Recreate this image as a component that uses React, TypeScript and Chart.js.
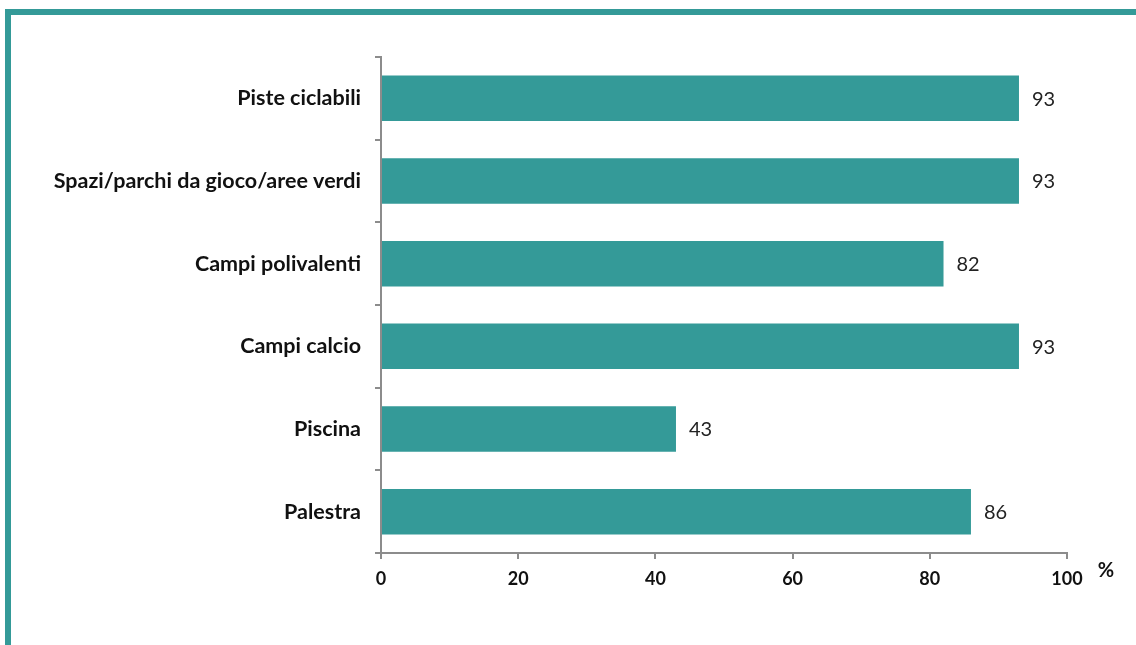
import React, { useEffect, useRef } from "react";
import { Chart, registerables } from "chart.js";

Chart.register(...registerables);

const categories = [
  "Piste ciclabili",
  "Spazi/parchi da gioco/aree verdi",
  "Campi polivalenti",
  "Campi calcio",
  "Piscina",
  "Palestra",
];
const values = [93, 93, 82, 93, 43, 86];
const xTicks = [0, 20, 40, 60, 80, 100];
const unitLabel = "%";

const TEAL = "#349a98";
const AXIS = "#8c8c8c";
const FONT = "Lato, 'Open Sans', sans-serif";

export default function App() {
  const ref = useRef<HTMLCanvasElement | null>(null);

  useEffect(() => {
    const canvas = ref.current;
    if (!canvas) return;

    const framePlugin = {
      id: "frame",
      beforeDraw(chart: any) {
        const ctx = chart.ctx;
        ctx.save();
        ctx.fillStyle = "#ffffff";
        ctx.fillRect(0, 0, chart.width, chart.height);
        ctx.fillStyle = TEAL;
        ctx.fillRect(5, 9, 6, chart.height - 9);
        ctx.fillRect(5, 9, chart.width - 5, 6);
        ctx.restore();
      },
    };

    const labelPlugin = {
      id: "valueLabels",
      afterDatasetsDraw(chart: any) {
        const ctx = chart.ctx;
        const meta = chart.getDatasetMeta(0);
        ctx.save();
        ctx.fillStyle = "#222222";
        ctx.font = `20px ${FONT}`;
        ctx.textAlign = "left";
        ctx.textBaseline = "middle";
        meta.data.forEach((bar: any, i: number) => {
          ctx.fillText(String(values[i]), bar.x + 13, bar.y + 1);
        });
        const xs = chart.scales.x;
        ctx.font = `bold 20px ${FONT}`;
        ctx.fillStyle = "#111111";
        ctx.textAlign = "center";
        ctx.fillText(unitLabel, xs.right + 39, xs.top + 18);
        ctx.restore();
      },
    };

    const chart = new Chart(canvas, {
      type: "bar",
      data: {
        labels: categories,
        datasets: [
          {
            data: values,
            backgroundColor: TEAL,
            borderWidth: 0,
            barPercentage: 0.55,
            categoryPercentage: 1,
          },
        ],
      },
      plugins: [framePlugin, labelPlugin],
      options: {
        indexAxis: "y",
        animation: false,
        responsive: false,
        maintainAspectRatio: false,
        layout: { padding: { left: 0, right: 69, top: 57, bottom: 0 } },
        plugins: { legend: { display: false }, tooltip: { enabled: false } },
        scales: {
          x: {
            type: "linear",
            min: 0,
            max: 100,
            afterBuildTicks(scale: any) {
              scale.ticks = xTicks.map((v) => ({ value: v }));
            },
            afterFit(scale: any) {
              scale.height = 92;
            },
            border: { display: true, color: AXIS, width: 2 },
            grid: {
              display: true,
              drawOnChartArea: false,
              drawTicks: true,
              tickLength: 6,
              color: AXIS,
              lineWidth: 2,
            },
            ticks: {
              color: "#111111",
              font: { family: FONT, size: 18, weight: "bold" },
              padding: 9,
            },
          },
          y: {
            type: "category",
            afterFit(scale: any) {
              scale.width = 381;
            },
            border: { display: true, color: AXIS, width: 2 },
            grid: {
              display: true,
              offset: true,
              drawOnChartArea: false,
              drawTicks: true,
              tickLength: 6,
              color: AXIS,
              lineWidth: 2,
            },
            ticks: {
              color: "#111111",
              font: { family: FONT, size: 21.5, weight: "bold" },
              padding: 14,
            },
          },
        },
      },
    } as any);

    return () => chart.destroy();
  }, []);

  return (
    <div style={{ position: "fixed", left: 0, top: 0, width: 1136, height: 645 }}>
      <canvas ref={ref} width={1136} height={645} style={{ display: "block" }} />
    </div>
  );
}
